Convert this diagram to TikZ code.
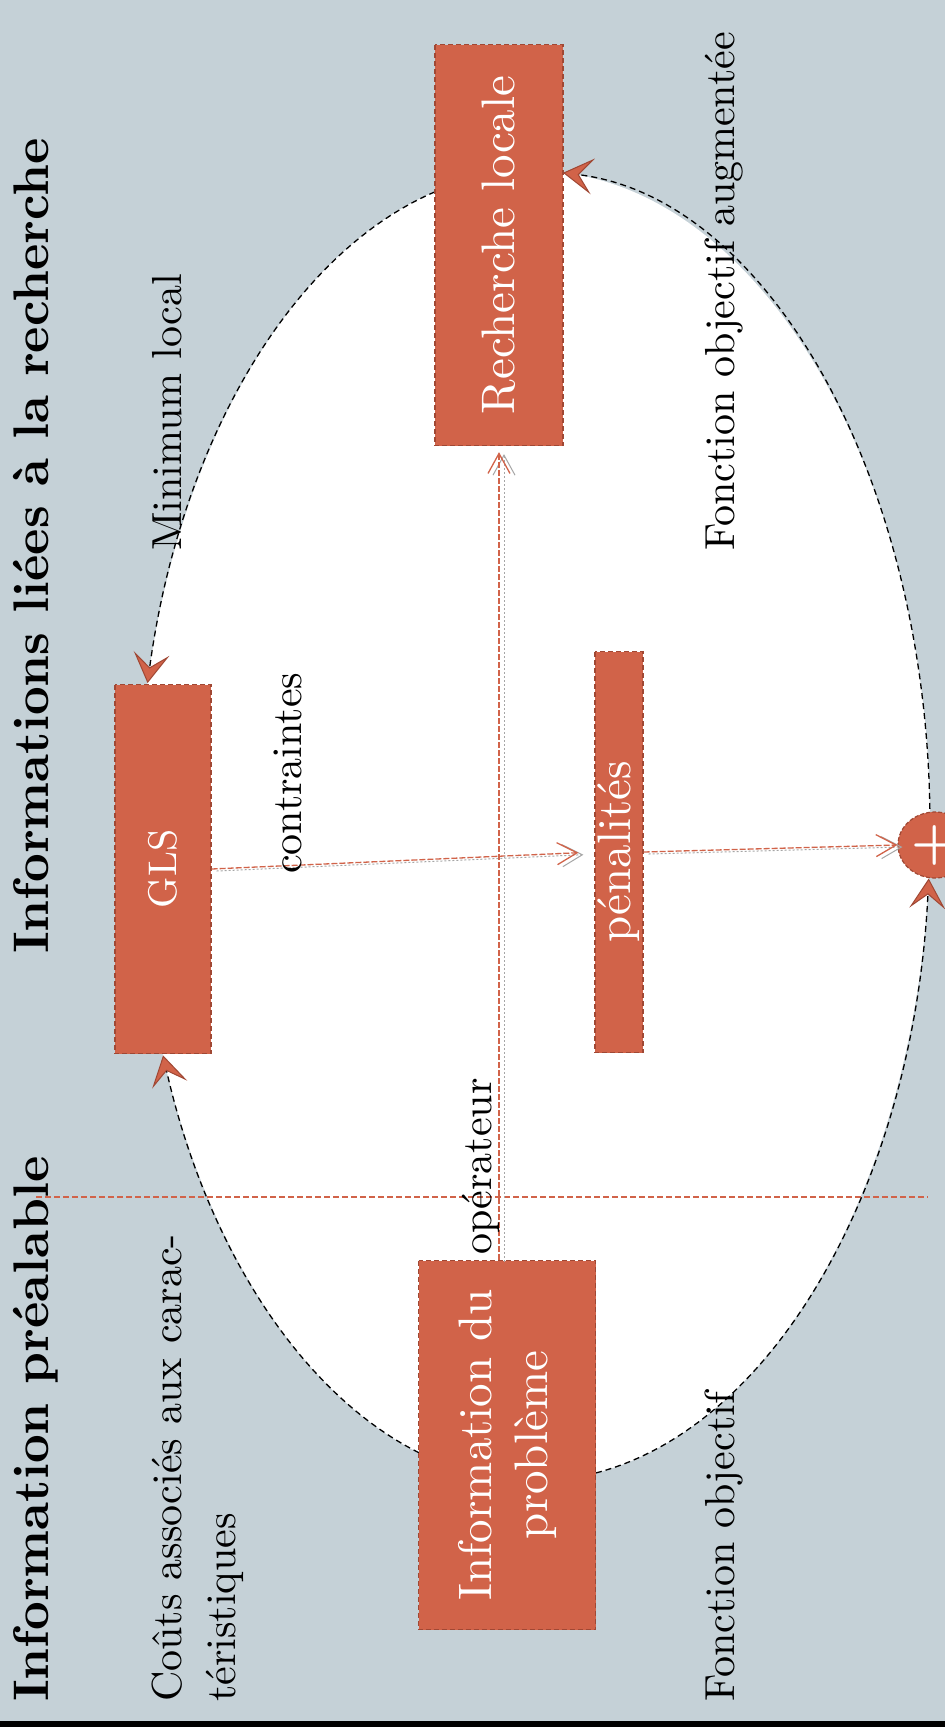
\documentclass[tikz,border=0pt]{standalone}
\usepackage{fontspec}
\setmainfont{lmroman10-regular.otf}[BoldFont=lmroman10-bold.otf]
\usepackage{xcolor}
\usepackage{tikz}
\usetikzlibrary{positioning,arrows.meta,shapes.geometric}

\definecolor{slate}{RGB}{197,209,215}
\definecolor{brick}{RGB}{209,99,73}
\definecolor{brickedge}{RGB}{160,72,52}

\begin{document}
\begin{tikzpicture}[
    x=1pt, y=1pt,
    block/.style={rectangle, rotate=90, draw=brickedge, dash pattern=on 5pt off 3pt, line width=1.2pt, fill=brick, text=white, inner sep=0pt, align=center, font=\fontsize{47}{56}\selectfont},
    sumnode/.style={ellipse, draw=brickedge, dash pattern=on 4pt off 2pt, line width=1.2pt, fill=brick, text=white, inner sep=0pt, minimum width=74pt, minimum height=66pt, font=\fontsize{52}{52}\selectfont\bfseries},
    note/.style={rotate=90, anchor=base west, inner sep=0pt, align=left, font=\fontsize{42}{54}\selectfont},
    heading/.style={note, font=\fontsize{50}{60}\selectfont\bfseries},
    arrow/.style={draw=brick, line width=1.3pt, dash pattern=on 6pt off 2pt, -{Straight Barb[length=20pt,width=22pt]}, preaction={draw=gray!70, line width=1pt, dash pattern=on 2pt off 2pt, transform canvas={shift={(5pt,-2pt)}}}},
    cyclearc/.style={draw=black, dash pattern=on 6pt off 4pt, line width=1.3pt, -{Stealth[length=30pt, width=36pt, inset=14pt, fill=brick, color=brickedge, line width=1pt]}},
    divider/.style={draw=brick, line width=1.3pt, dash pattern=on 6pt off 3pt},
]
\useasboundingbox (0,0) rectangle (945,-1727);
\clip (0,0) rectangle (945,-1727);

% --- BACKGROUND ---
\fill[slate] (0,0) rectangle (945,-1727);
\fill[black] (0,-1721) rectangle (945,-1727);
\coordinate (cyc) at (534,-826);
\fill[white] (cyc) ellipse[x radius=396pt, y radius=655pt];

% --- SEPARATION (prior info / search info) ---
\draw[divider] (36,-1197) -- (928,-1197);

% --- CYCLE (dashed ellipse arcs) ---
\draw[cyclearc] ([shift={(1.5:396pt and 655pt)}]cyc) arc[start angle=1.5, end angle=85.8, x radius=396pt, y radius=655pt];
\draw[cyclearc] ([shift={(104.5:396pt and 655pt)}]cyc) arc[start angle=104.5, end angle=167.4, x radius=396pt, y radius=655pt];
\draw[cyclearc] ([shift={(253.1:396pt and 655pt)}]cyc) arc[start angle=253.1, end angle=200.5, x radius=396pt, y radius=655pt];
\draw[cyclearc] ([shift={(279:396pt and 655pt)}]cyc) arc[start angle=279, end angle=355.4, x radius=396pt, y radius=655pt];

% --- BLOCKS ---
\node[block, minimum width=401pt, minimum height=128pt] (LS) at (499,-245) {Recherche locale};
\node[block, minimum width=369pt, minimum height=96pt, font=\fontsize{40}{48}\selectfont] (GLS) at (163,-869) {GLS};
\node[block, minimum width=401pt, minimum height=48pt] (Pen) at (619,-852) {pénalités};
\node[block, minimum width=369pt, minimum height=177pt] (Info) at (507,-1445) {Information du\\problème};
\node[sumnode] (Sum) at (935,-845) {+};

% --- ARROWS ---
\draw[arrow, shorten >=16pt] (GLS.south) -- (Pen.north);
\draw[arrow] (Pen.south) -- (Sum.west);
\draw[arrow, shorten >=6pt] (Info.east -| LS) -- (LS.west);

% --- LABELS ---
\node[heading] (hPrior) at (48,-1702) {Information préalable};
\node[heading] (hSearch) at (48,-954) {Informations liées à la recherche};
\node[note] (tCost) at (235,-1702) {Coûts associés aux carac-\\téristiques};
\node[note] (tMin) at (181,-551) {Minimum local};
\node[note] (tCons) at (301,-874) {contraintes};
\node[note] (tOp) at (491,-1255) {opérateur};
\node[note] (tObj) at (734,-1702) {Fonction objectif};
\node[note] (tAug) at (734,-551) {Fonction objectif augmentée};

\end{tikzpicture}
\end{document}
